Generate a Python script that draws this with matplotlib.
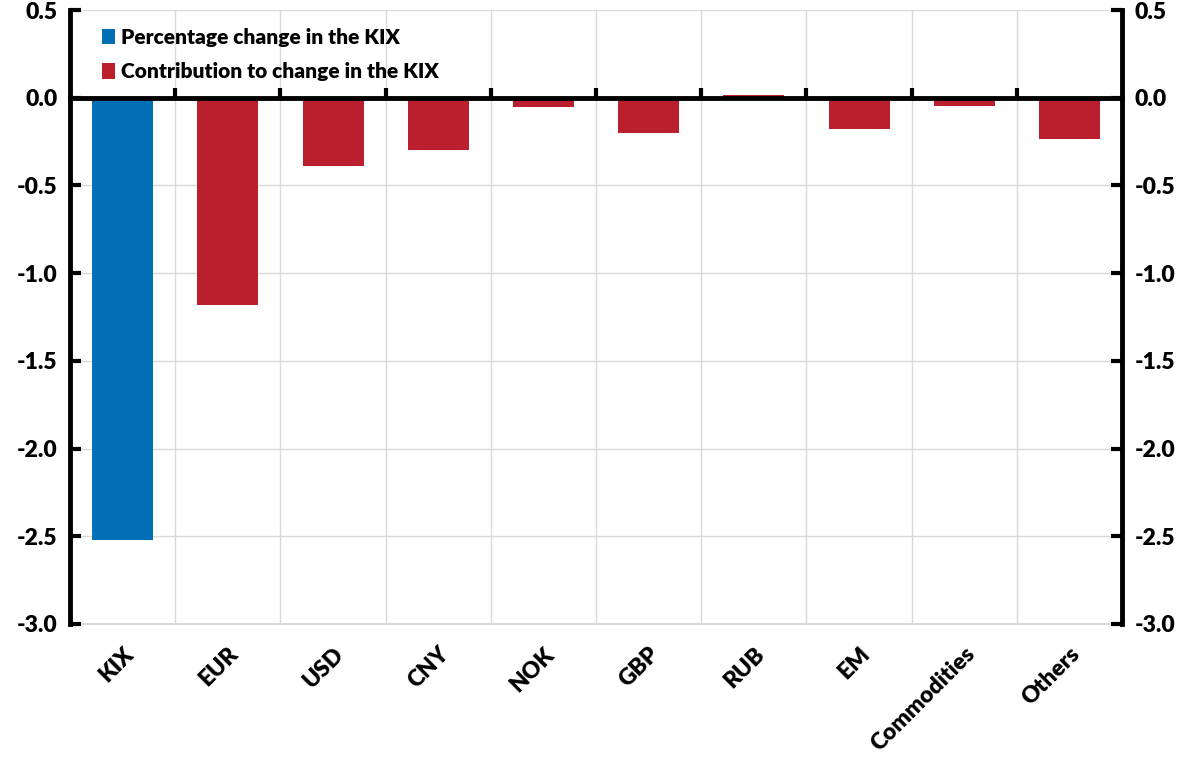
import matplotlib
matplotlib.use("Agg")
import matplotlib.pyplot as plt
import numpy as np

plt.rcParams['font.family'] = ['Lato', 'DejaVu Sans']
plt.rcParams['font.weight'] = 'bold'

categories = ["KIX", "EUR", "USD", "CNY", "NOK", "GBP", "RUB", "EM", "Commodities", "Others"]
kix_change = [-2.52]
contributions = [-1.18, -0.39, -0.30, -0.055, -0.20, 0.018, -0.18, -0.045, -0.235]

blue = "#006fb6"
red = "#bb1f2e"
grid_col = "#d9d9d9"

fig = plt.figure(figsize=(11.93, 7.60), dpi=100)
ax = fig.add_axes([0.0587, 0.179, 0.8818, 0.8078])

x = np.arange(len(categories))
ax.bar(x[:1], kix_change, width=0.58, color=blue, label="Percentage change in the KIX", zorder=3)
ax.bar(x[1:], contributions, width=0.58, color=red, label="Contribution to change in the KIX", zorder=3)

ax.set_xlim(-0.5, len(categories) - 0.5)
ax.set_ylim(-3.0, 0.5)
ax.set_yticks(np.arange(-3.0, 0.51, 0.5))
ax.yaxis.set_major_formatter(matplotlib.ticker.FormatStrFormatter('%.1f'))

# zero line acts as x axis, with ticks at category boundaries
ax.spines['bottom'].set_position(('data', 0))
ax.spines['bottom'].set_linewidth(3.5)
ax.spines['bottom'].set_zorder(4)
ax.spines['top'].set_visible(False)
for s in ['left', 'right']:
    ax.spines[s].set_linewidth(3.5)
ax.set_xticks(np.arange(0.5, len(categories) - 1, 1.0))
ax.tick_params(axis='x', direction='in', length=7, width=3, labelbottom=False)
ax.tick_params(axis='y', direction='in', length=8, width=3, labelsize=16.5,
               left=True, right=True, labelleft=True, labelright=True, pad=9)
for tk in ax.yaxis.get_major_ticks():
    tk.label1.set_fontweight('heavy')
    tk.label2.set_fontweight('heavy')

ax.grid(True, color=grid_col, linewidth=1, zorder=0)
ax.set_axisbelow(True)

# category labels along the bottom
sec = ax.secondary_xaxis(0.0)
sec.set_xticks(x)
sec.set_xticklabels(categories, rotation=45, ha='right', rotation_mode='anchor',
                    fontsize=16.5, fontweight='heavy')
sec.tick_params(length=0, pad=14)
sec.spines['bottom'].set_color(grid_col)
sec.spines['bottom'].set_linewidth(1.5)

leg = ax.legend(loc='upper left', frameon=False, fontsize=15, handlelength=0.6,
                handleheight=0.75, handletextpad=0.3, labelspacing=0.75,
                bbox_to_anchor=(0.013, 1.002))
for t in leg.get_texts():
    t.set_fontweight('heavy')

fig.savefig("out.png", dpi=100)
